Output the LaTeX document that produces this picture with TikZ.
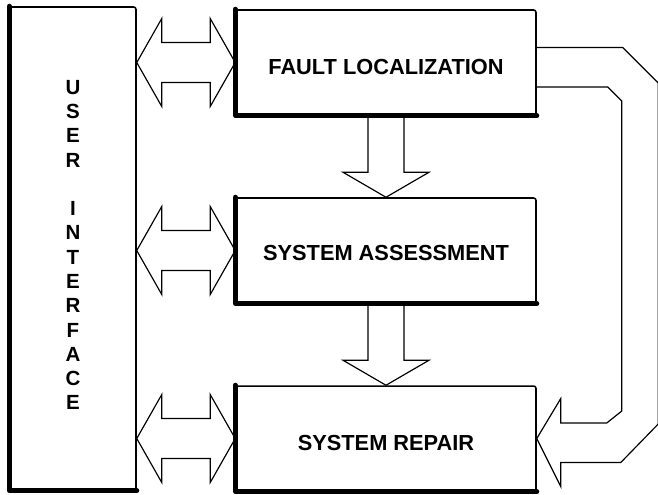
\documentclass[tikz,border=0pt]{standalone}
\usepackage{fontspec}
\setmainfont{Liberation Sans}
\usetikzlibrary{calc}
\begin{document}
\begin{tikzpicture}[x=0.03cm,y=-0.03cm,node distance=5.64cm]
\tikzstyle{panel} = [rectangle, rounded corners=2pt, text centered, draw=black, line width=1.3pt]
\tikzstyle{stage} = [panel, minimum width=9cm, minimum height=3.15cm, text height=0.71cm, text depth=0cm, font=\bfseries\fontsize{18.6}{22}\selectfont]
\tikzstyle{shadeline} = [line width=4.3pt, line cap=round, line join=round]
\tikzstyle{blockarrow} = [draw=black, line width=1pt, line join=miter]
\useasboundingbox (0,0) rectangle (658,495);
\clip (0,0) rectangle (658,495);
\node (ui) [panel, minimum width=3.78cm, minimum height=14.49cm, align=center, text depth=0.21cm, font=\bfseries\fontsize{17.5}{20.74}\selectfont] at (73,248.5) {U\\S\\E\\R\\[20.74pt]I\\N\\T\\E\\R\\F\\A\\C\\E};
\node (fl) [stage] at (386,62.5) {FAULT LOCALIZATION};
\node (sa) [stage, below of=fl, text height=0.6cm] {SYSTEM ASSESSMENT};
\node (sr) [stage, below of=sa] {SYSTEM REPAIR};
\foreach \n in {ui,fl,sa,sr}
  \draw[shadeline] (\n.north west) -- (\n.south west) -- (\n.south east);
% two-way links to the user interface
\foreach \b in {fl,sa,sr}
  \draw[blockarrow] (ui.east |- \b.west) -- ++(25,-44) -- ++(0,24) -- ($(\b.west)+(-25,-20)$) -- ++(0,-24) -- (\b.west) -- ++(-25,44) -- ++(0,-24) -- ($(ui.east |- \b.west)+(25,20)$) -- ++(0,24) -- cycle;
% flow down the stages
\foreach \a/\b in {fl/sa,sa/sr}
  \draw[blockarrow] ($(\a.south)+(-18,0)$) -- ($(\b.north)+(-18,-25)$) -- ++(-25,0) -- (\b.north) -- ++(43,-25) -- ++(-25,0) -- ($(\a.south)+(18,0)$);
% return path from fault localization to repair
\draw[blockarrow] ($(fl.east)+(0,-15)$) -- ++(86,0) -- ++(35.5,35.5) -- ++(0,341) -- ++(-37.5,38.5) -- ($(sr.east)+(24,24)$) -- ($(sr.east)+(24,48)$) -- (sr.east) -- ($(sr.east)+(24,-40)$) -- ($(sr.east)+(24,-15.5)$) -- ++(46,0) -- ++(15,-12) -- ++(0,-310) -- ++(-14,-14) -- ($(fl.east)+(0,24.5)$);
\end{tikzpicture}
\end{document}
